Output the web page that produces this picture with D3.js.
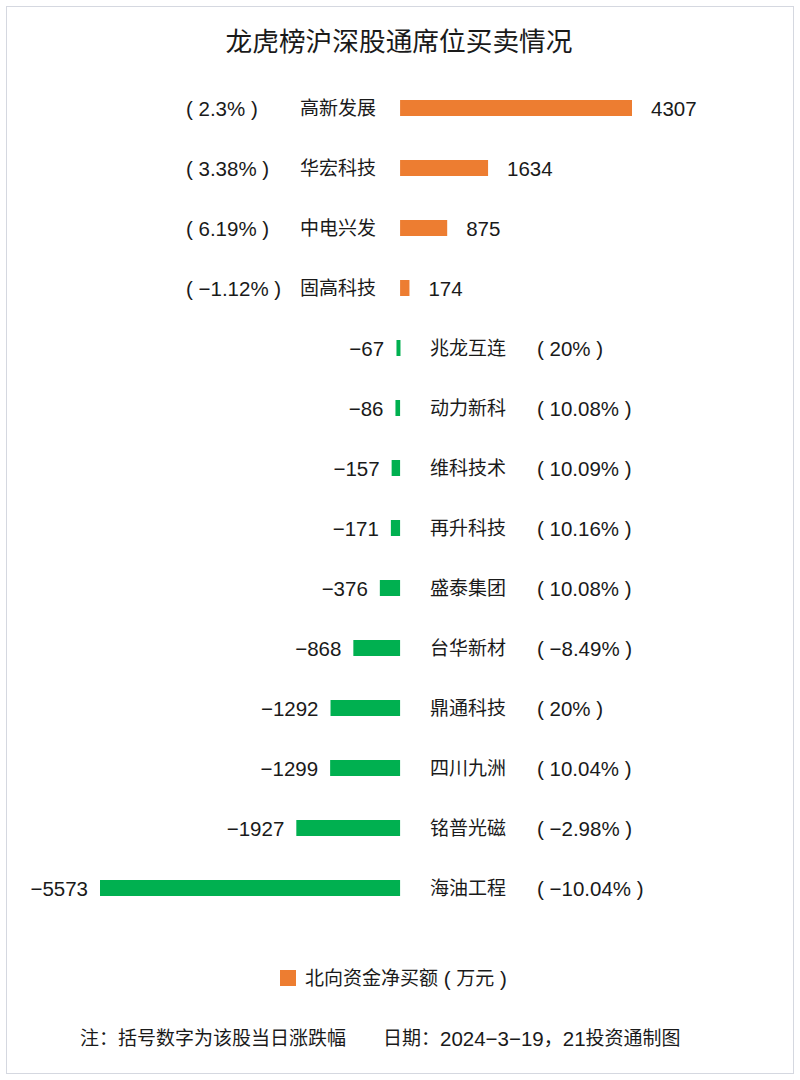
<!DOCTYPE html>
<html>
<head>
<meta charset="utf-8">
<script src="https://cdn.jsdelivr.net/npm/d3@7"></script>
<style>
  body { margin: 0; background: #fff; }
  svg text { font-family: "Liberation Sans", "Noto Sans CJK SC", sans-serif; fill: #1a1a1a; }
</style>
</head>
<body>
<div id="chart"></div>
<script>
// stock names, net buy (10k yuan), daily change
const names = ["高新发展", "华宏科技", "中电兴发", "固高科技", "兆龙互连", "动力新科", "维科技术",
  "再升科技", "盛泰集团", "台华新材", "鼎通科技", "四川九洲", "铭普光磁", "海油工程"];
const values = [4307, 1634, 875, 174, -67, -86, -157, -171, -376, -868, -1292, -1299, -1927, -5573];
const pcts = ["2.3%", "3.38%", "6.19%", "-1.12%", "20%", "10.08%", "10.09%", "10.16%", "10.08%",
  "-8.49%", "20%", "10.04%", "-2.98%", "-10.04%"];

const w = 800, h = 1080;
const orange = "#ED7D31", green = "#00B050";
const cjkSize = 19, latinSize = 20.5;

const svg = d3.select("#chart").append("svg")
  .attr("width", w)
  .attr("height", h);

// split text into latin / cjk runs so digits can be a bit larger
function mixedText(sel, str) {
  const runs = str.match(/[\x00-\x7F\u2212]+|[^\x00-\x7F\u2212]+/g) || [];
  runs.forEach((r) => {
    sel.append("tspan")
      .style("font-size", (/[\x00-\x7F\u2212]/.test(r[0]) ? latinSize : cjkSize) + "px")
      .text(r);
  });
}

// frame
svg.append("rect")
  .attr("x", 6.5).attr("y", 6.5)
  .attr("width", w - 13).attr("height", h - 13)
  .attr("fill", "none")
  .attr("stroke", "#D5D8E0");

svg.append("text")
  .attr("x", 399).attr("y", 42)
  .attr("text-anchor", "middle")
  .attr("dominant-baseline", "central")
  .style("font-size", "26.7px")
  .text("龙虎榜沪深股通席位买卖情况");

const xScale = d3.scaleLinear()
  .domain([d3.min(values), d3.max(values)])
  .range([100, 632]);

const yScale = d3.scalePoint()
  .domain(names)
  .range([108, 888]);

const x0 = xScale(0);
const barH = 16;
const minus = (s) => s.replace(/-/g, "\u2212");

const rows = svg.selectAll("g.row")
  .data(names.map((n, i) => ({ name: n, v: values[i], p: pcts[i] })))
  .enter()
  .append("g")
  .attr("class", "row")
  .attr("transform", (d) => "translate(0," + yScale(d.name) + ")");

rows.append("rect")
  .attr("x", (d) => Math.min(xScale(d.v), x0))
  .attr("y", -barH / 2)
  .attr("width", (d) => Math.max(Math.abs(xScale(d.v) - x0), 4))
  .attr("height", barH)
  .attr("fill", (d) => d.v >= 0 ? orange : green);

// value labels
rows.append("text")
  .attr("x", (d) => d.v >= 0 ? xScale(d.v) + 19 : Math.min(xScale(d.v), x0 - 4) - 12)
  .attr("text-anchor", (d) => d.v >= 0 ? "start" : "end")
  .attr("dominant-baseline", "central")
  .style("font-size", latinSize + "px")
  .text((d) => minus(String(d.v)));

// name labels
rows.append("text")
  .attr("x", (d) => d.v >= 0 ? 376 : 430)
  .attr("text-anchor", (d) => d.v >= 0 ? "end" : "start")
  .attr("dominant-baseline", "central")
  .style("font-size", cjkSize + "px")
  .text((d) => d.name);

// pct labels
rows.append("text")
  .attr("x", (d) => d.v >= 0 ? 186 : 537)
  .attr("text-anchor", "start")
  .attr("dominant-baseline", "central")
  .style("font-size", latinSize + "px")
  .text((d) => "( " + minus(d.p) + " )");

// legend
svg.append("rect")
  .attr("x", 280).attr("y", 970)
  .attr("width", 16).attr("height", 16)
  .attr("fill", orange);

svg.append("text")
  .attr("x", 305).attr("y", 978)
  .attr("dominant-baseline", "central")
  .call(mixedText, "北向资金净买额 ( 万元 )");

// footer
svg.append("text")
  .attr("x", 80).attr("y", 1038)
  .attr("dominant-baseline", "central")
  .style("font-size", cjkSize + "px")
  .text("注：括号数字为该股当日涨跌幅");

svg.append("text")
  .attr("x", 383).attr("y", 1038)
  .attr("dominant-baseline", "central")
  .call(mixedText, "日期：2024\u22123\u221219，21投资通制图");
</script>
</body>
</html>
